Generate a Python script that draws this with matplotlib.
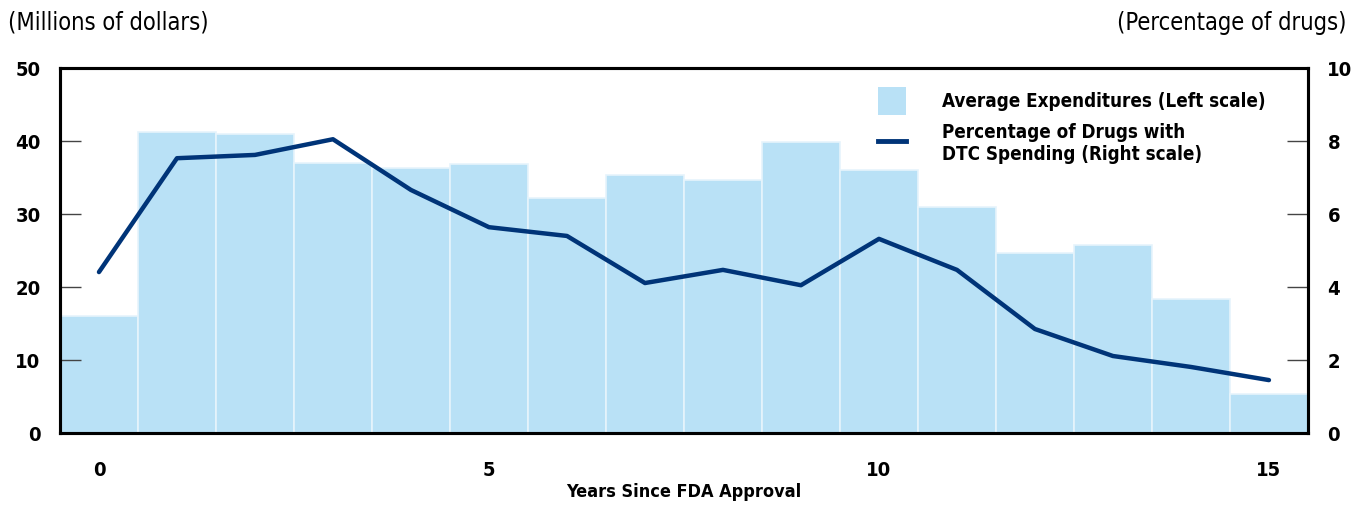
import numpy as np
import matplotlib.pyplot as plt
from matplotlib.patches import Patch
from matplotlib.lines import Line2D

plt.rcParams['font.family'] = ['DejaVu Sans']
plt.rcParams['font.stretch'] = 'condensed'

years = np.arange(16)
expend = [16.0, 41.2, 41.0, 37.0, 36.3, 36.8, 32.2, 35.4, 34.6, 39.9, 36.0, 31.0, 24.6, 25.8, 18.4, 5.4]
pct_dtc = [4.41, 7.53, 7.62, 8.05, 6.66, 5.64, 5.40, 4.11, 4.47, 4.05, 5.32, 4.47, 2.85, 2.11, 1.81, 1.45]

bar_col = '#b9e1f6'
line_col = '#003478'

fig = plt.figure(figsize=(13.66, 5.08), dpi=100)
ax = fig.add_axes([0.0439, 0.1476, 0.9136, 0.7184])
ax.bar(years, expend, width=1.0, color=bar_col, edgecolor='#e6f4fc', linewidth=1.2)
ax.set_xlim(-0.5, 15.5)
ax.set_ylim(0, 50)
ax.set_yticks([0, 10, 20, 30, 40, 50])
ax.set_xticks([0, 5, 10, 15])
ax.tick_params(axis='x', length=0, pad=20, labelsize=14.5)
ax.tick_params(axis='y', direction='in', length=15, width=1, color='#444444', pad=14, labelsize=14.5)
for lab in ax.get_xticklabels() + ax.get_yticklabels():
    lab.set_fontweight('bold')
for s in ax.spines.values():
    s.set_linewidth(2.2)
ax.set_xlabel('Years Since FDA Approval', fontsize=13, fontweight='bold', labelpad=2)

ax2 = ax.twinx()
ax2.plot(years, pct_dtc, color=line_col, linewidth=3.2, solid_capstyle='round')
ax2.set_ylim(0, 10)
ax2.set_yticks([0, 2, 4, 6, 8, 10])
ax2.tick_params(axis='y', direction='in', length=15, width=1, color='#444444', pad=14, labelsize=14.5)
for lab in ax2.get_yticklabels():
    lab.set_fontweight('bold')
for s in ax2.spines.values():
    s.set_linewidth(2.2)

fig.text(0.006, 0.955, '(Millions of dollars)', fontsize=17, ha='left', va='center')
fig.text(0.986, 0.955, '(Percentage of drugs)', fontsize=17, ha='right', va='center')

handles = [Patch(facecolor=bar_col, edgecolor='none'),
           Line2D([0], [0], color=line_col, linewidth=3.5)]
labels = ['Average Expenditures (Left scale)',
          'Percentage of Drugs with\nDTC Spending (Right scale)']
leg = ax2.legend(handles, labels, loc='upper left', bbox_to_anchor=(0.642, 0.995),
                 frameon=False, prop={'size': 13.5, 'weight': 'bold', 'stretch': 'condensed'},
                 handlelength=1.5, handleheight=1.9, handletextpad=1.9, labelspacing=0.45)

plt.savefig('out.png', dpi=100)
